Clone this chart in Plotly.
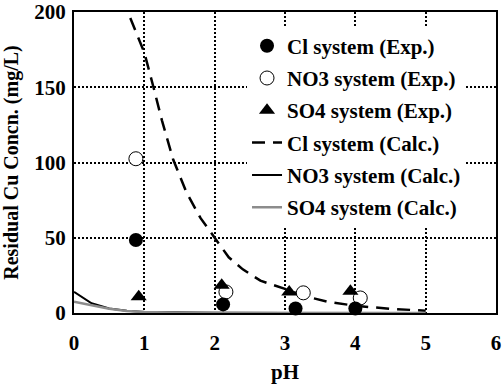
import plotly.graph_objects as go

# ---- data ----
cl_exp_ph = [0.88, 2.12, 3.15, 4.0]
cl_exp_cu = [48.5, 5.7, 3.0, 3.0]
no3_exp_ph = [0.88, 2.16, 3.26, 4.07]
no3_exp_cu = [102.5, 14.0, 13.4, 10.0]
so4_exp_ph = [0.92, 2.10, 3.06, 3.93]
so4_exp_cu = [10.8, 18.5, 14.0, 14.5]

cl_calc_ph = [0.8, 0.9, 1.0, 1.13, 1.25, 1.41, 1.6, 1.8, 2.0, 2.2, 2.4, 2.65, 3.0, 3.3, 3.6, 4.0, 4.5, 5.0]
cl_calc_cu = [196, 185, 173, 150, 128, 102, 80, 63, 50, 37, 29, 21.5, 16, 11, 7.5, 4.8, 2.8, 1.5]
no3_calc_ph = [0, 0.25, 0.5, 0.75, 1.0, 1.5, 2.0, 3.0, 4.0, 5.0]
no3_calc_cu = [14, 6.5, 3.0, 1.5, 0.7, 0.2, 0.1, 0.0, 0.0, 0.0]
so4_calc_ph = [0, 0.25, 0.5, 0.75, 1.0, 1.5, 2.0, 3.0, 4.0, 5.0]
so4_calc_cu = [7.5, 5.0, 2.8, 1.4, 0.7, 0.2, 0.1, 0.0, 0.0, 0.0]

x_ticks = [0, 1, 2, 3, 4, 5, 6]
y_ticks = [0, 50, 100, 150, 200]

FONT = "Liberation Serif"
BOLD = dict(family=FONT, size=21, color="black", weight="bold")
BOLD20 = dict(family=FONT, size=20, color="black", weight="bold")

fig = go.Figure()

# lines first (beneath markers)
fig.add_trace(go.Scatter(x=cl_calc_ph, y=cl_calc_cu, mode="lines", name="Cl system (Calc.)",
                         line=dict(color="black", width=2.5, dash="13px,8px"),
                         legendrank=4, legendgroup="g4", cliponaxis=False))
fig.add_trace(go.Scatter(x=no3_calc_ph, y=no3_calc_cu, mode="lines", name="NO3 system (Calc.)",
                         line=dict(color="black", width=2),
                         legendrank=5, legendgroup="g5", cliponaxis=False))
fig.add_trace(go.Scatter(x=so4_calc_ph, y=so4_calc_cu, mode="lines", name="SO4 system (Calc.)",
                         line=dict(color="#8c8c8c", width=2.5),
                         legendrank=6, legendgroup="g6", cliponaxis=False))

fig.add_trace(go.Scatter(x=no3_exp_ph, y=no3_exp_cu, mode="markers", name="NO3 system (Exp.)",
                         marker=dict(symbol="circle", size=14, color="white",
                                     line=dict(color="black", width=1)),
                         legendrank=2, legendgroup="g2", cliponaxis=False))
fig.add_trace(go.Scatter(x=cl_exp_ph, y=cl_exp_cu, mode="markers", name="Cl system (Exp.)",
                         marker=dict(symbol="circle", size=14, color="black",
                                     line=dict(color="black", width=0)),
                         legendrank=1, legendgroup="g1", cliponaxis=False))
fig.add_trace(go.Scatter(x=so4_exp_ph, y=so4_exp_cu, mode="markers", name="SO4 system (Exp.)",
                         marker=dict(symbol="triangle-up", size=14, color="black",
                                     line=dict(color="black", width=0)),
                         legendrank=3, legendgroup="g3", cliponaxis=False))

fig.update_xaxes(range=[0, 6], tickmode="array", tickvals=x_ticks, ticktext=[str(v) for v in x_ticks],
                 tickfont=BOLD, ticklabelstandoff=10, ticklabeloverflow="allow",
                 showline=True, linecolor="black", linewidth=2, mirror=True,
                 showgrid=True, gridcolor="black", gridwidth=1.5, griddash="2px,2px",
                 zeroline=False, ticks="", layer="below traces", automargin=False,
                 title=dict(text="pH", font=BOLD, standoff=10))
fig.update_yaxes(range=[0, 200], tickmode="array", tickvals=y_ticks, ticktext=[str(v) for v in y_ticks],
                 tickfont=BOLD, ticklabelstandoff=2, ticklabeloverflow="allow",
                 showline=True, linecolor="black", linewidth=2, mirror=True,
                 showgrid=True, gridcolor="black", gridwidth=1.5, griddash="2px,2px",
                 zeroline=False, ticks="", layer="below traces", automargin=False,
                 title=dict(text="Residual Cu Concn. (mg/L)", font=BOLD20, standoff=22))

fig.update_layout(
    width=504, height=388,
    margin=dict(l=74, r=8, t=12, b=75),
    paper_bgcolor="white", plot_bgcolor="white",
    font=BOLD,
    showlegend=True,
    legend=dict(x=0.41, y=0.955, xanchor="left", yanchor="top",
                bgcolor="white", borderwidth=0,
                traceorder="grouped", tracegroupgap=2,
                font=BOLD, itemwidth=30),
)

fig.write_html("out.html")
